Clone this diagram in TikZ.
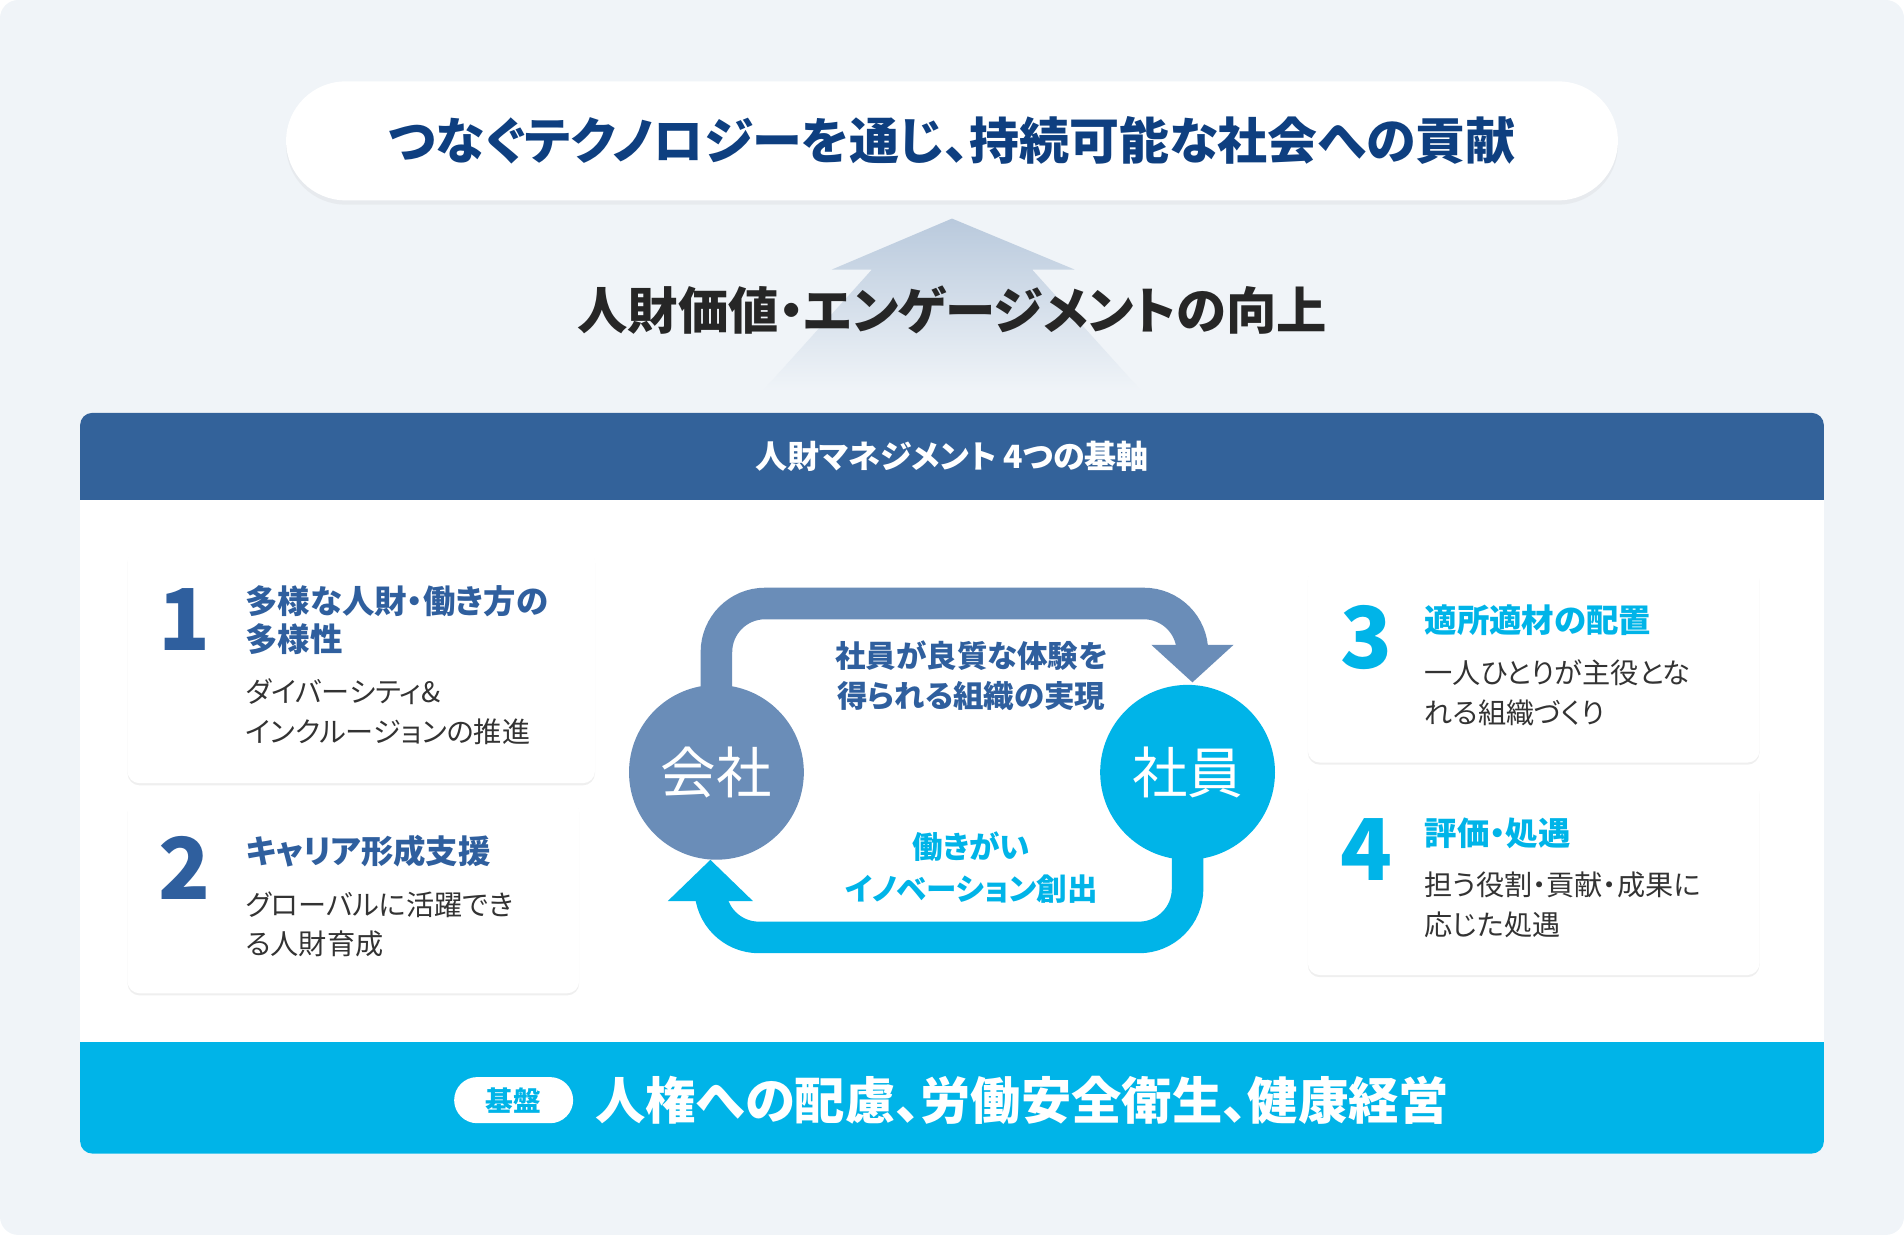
\documentclass[tikz,border=0pt]{standalone}
\usepackage{fontspec}
\setmainfont{Noto Sans CJK JP}[RawFeature={+palt}]
\usetikzlibrary{arrows.meta,shadows}
\definecolor{bgc}{HTML}{F0F4F8}
\definecolor{navy}{HTML}{0E3F80}
\definecolor{barblue}{HTML}{33629A}
\definecolor{numblue}{HTML}{2F5F9E}
\definecolor{cyanc}{HTML}{00B4E8}
\definecolor{loopblue}{HTML}{6A8DB8}
\definecolor{txt}{HTML}{333333}
\tikzset{
  card/.style={fill=white,rounded corners=0.2cm,drop shadow={opacity=0.12,shadow xshift=0pt,shadow yshift=-1pt}},
  num/.style={anchor=center,font=\bfseries\fontsize{40}{40}\selectfont},
  ctitle/.style={anchor=west,font=\bfseries\fontsize{15.2}{15.2}\selectfont},
  cbody/.style={anchor=west,text=txt,font=\fontsize{13.2}{13.2}\selectfont},
  looptext/.style={font=\bfseries\fontsize{14.3}{14.3}\selectfont},
  loop/.style={line width=0.52cm,rounded corners=0.8cm}
}
\begin{document}
\begin{tikzpicture}[x=0.02cm,y=-0.02cm]
\useasboundingbox (0,0) rectangle (1568,1017);
\fill[bgc,rounded corners=0.3cm] (0,0) rectangle (1568,1017);
% top goal
\node[fill=white,rounded corners=0.98cm,minimum width=21.94cm,minimum height=1.96cm,
  drop shadow={opacity=0.08,shadow xshift=0pt,shadow yshift=-2pt}] (goal) at (784,116) {};
\node[text=navy,font=\bfseries\fontsize{23.4}{23.4}\selectfont] (goaltext) at (goal) {つなぐテクノロジーを通じ、持続可能な社会への貢献};
% up arrow
\shade[top color=bgc!55!barblue!70,bottom color=bgc]
  (784,180) -- (885,222) -- (850,222) -- (940,322) -- (628,322) -- (718,222) -- (685,222) -- cycle;
\node[text=black!85,font=\bfseries\fontsize{23.6}{23.6}\selectfont] (value) at (784,255) {人財価値・エンゲージメントの向上};
% main panel
\fill[white,rounded corners=0.2cm] (66,340) rectangle (1502,950);
\fill[barblue,rounded corners=0.2cm] (66,340) rectangle (1502,380);
\fill[barblue] (66,370) rectangle (1502,412);
\node[text=white,font=\bfseries\fontsize{15}{15}\selectfont] (head) at (784,376) {人財マネジメント 4つの基軸};
\fill[cyanc,rounded corners=0.2cm] (66,910) rectangle (1502,950);
\fill[cyanc] (66,858) rectangle (1502,920);
\node[fill=white,rounded corners=0.38cm,minimum width=1.96cm,minimum height=0.76cm,text=cyanc,
  font=\bfseries\fontsize{13}{13}\selectfont] (badge) at (423,906) {基盤};
\node[anchor=west,text=white,font=\bfseries\fontsize{23.6}{23.6}\selectfont] (base) at (484,906) {人権への配慮、労働安全衛生、健康経営};
% cards
\fill[card] (105,452) rectangle (490,645);
\fill[card] (105,658) rectangle (477,818);
\fill[card] (1077,467) rectangle (1449,628);
\fill[card] (1077,642) rectangle (1449,803);
\node[num,text=numblue] (n1) at (152,510) {1};
\node[ctitle,text=numblue] (t1a) at (196,495) {多様な人財・働き方の};
\node[ctitle,text=numblue] (t1b) at (196,526) {多様性};
\node[cbody] (b1a) at (196,570) {ダイバーシティ\&};
\node[cbody] (b1b) at (196,603) {インクルージョンの推進};
\node[num,text=numblue] (n2) at (152,715) {2};
\node[ctitle,text=numblue] (t2) at (196,701) {キャリア形成支援};
\node[cbody] (b2a) at (196,745) {グローバルに活躍でき};
\node[cbody] (b2b) at (196,777) {る人財育成};
\node[num,text=cyanc] (n3) at (1125,525) {3};
\node[ctitle,text=cyanc] (t3) at (1167,511) {適所適材の配置};
\node[cbody] (b3a) at (1167,554) {一人ひとりが主役とな};
\node[cbody] (b3b) at (1167,587) {れる組織づくり};
\node[num,text=cyanc] (n4) at (1125,700) {4};
\node[ctitle,text=cyanc] (t4) at (1167,686) {評価・処遇};
\node[cbody] (b4a) at (1167,729) {担う役割・貢献・成果に};
\node[cbody] (b4b) at (1167,762) {応じた処遇};
% loop
\coordinate (topend) at (982,562);
\coordinate (botend) at (585,708);
\draw[loop,loopblue,-{Triangle[length=0.62cm,width=1.32cm]}]
  (590,600) -- (590,497) -- (982,497) -- (topend);
\draw[loop,cyanc,-{Triangle[length=0.68cm,width=1.36cm]}]
  (978,680) -- (978,772) -- (585,772) -- (botend);
\node[circle,fill=loopblue,minimum size=2.88cm,text=white,font=\fontsize{26}{26}\selectfont] (company) at (590,636) {会社};
\node[circle,fill=cyanc,minimum size=2.88cm,text=white,font=\fontsize{26}{26}\selectfont] (staff) at (978,636) {社員};
\node[looptext,text=numblue] (l1a) at (800,540) {社員が良質な体験を};
\node[looptext,text=numblue] (l1b) at (800,573) {得られる組織の実現};
\node[looptext,text=cyanc] (l2a) at (800,697) {働きがい};
\node[looptext,text=cyanc] (l2b) at (800,732) {イノベーション創出};
\end{tikzpicture}
\end{document}
